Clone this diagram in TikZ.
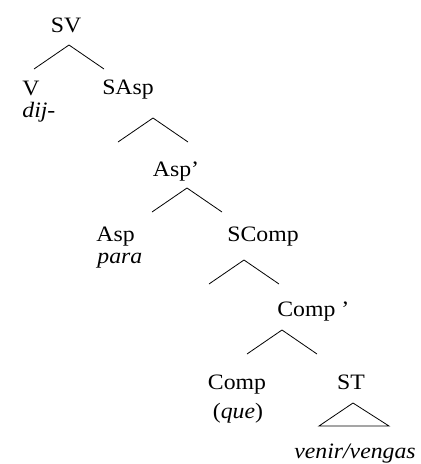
\documentclass[tikz,border=0pt]{standalone}
\usepackage{fontspec}
\setmainfont[FakeStretch=1.08]{Liberation Serif}
\usepackage{tikz}

\newcommand\fork[2]{%
  \coordinate (#1) at #2;
  \draw (#1) -- ++(-35,24) coordinate (#1-l);
  \draw (#1) -- ++(35,24) coordinate (#1-r);}

\begin{document}
\begin{tikzpicture}[x=1pt, y=-1pt, line width=0.8pt,
  cat/.style={anchor=base, inner sep=0pt, font=\fontsize{22}{26}\selectfont},
  word/.style={cat, font=\fontsize{22}{26}\selectfont\itshape}]
  \useasboundingbox (0,0) rectangle (421,464);
  % categories
  \node[cat] (sv) at (66,32) {SV};
  \node[cat, anchor=base west] (v) at (22,95) {V};
  \node[word, anchor=base west] (dij) at (22,117) {dij-};
  \node[cat] (sasp) at (128,94) {SAsp};
  \node[cat] (aspbar) at (176,176) {Asp'};
  \node[cat, anchor=base west] (asp) at (96,241) {Asp};
  \node[word, anchor=base west] (para) at (97,263) {para};
  \node[cat] (scomp) at (263,241) {SComp};
  \node[cat, anchor=base west] (compbar) at (277,316) {Comp~'};
  \node[cat] (comp) at (237,389) {Comp};
  \node[cat] (que) at (238,418) {(\textit{que})};
  \node[cat] (st) at (351,389) {ST};
  \node[word] (venir) at (355,458) {venir/vengas};
  % branches
  \fork{sv-top}{(69,45)}
  \fork{sasp-top}{(153,118)}
  \fork{aspbar-top}{(187,188)}
  \fork{scomp-top}{(244,260)}
  \fork{compbar-top}{(282,330)}
  % roof over ST
  \coordinate (st-top) at (353,403);
  \draw (st-top) -- (319,426) coordinate (st-l) -- (389,426) coordinate (st-r) -- cycle;
\end{tikzpicture}
\end{document}
